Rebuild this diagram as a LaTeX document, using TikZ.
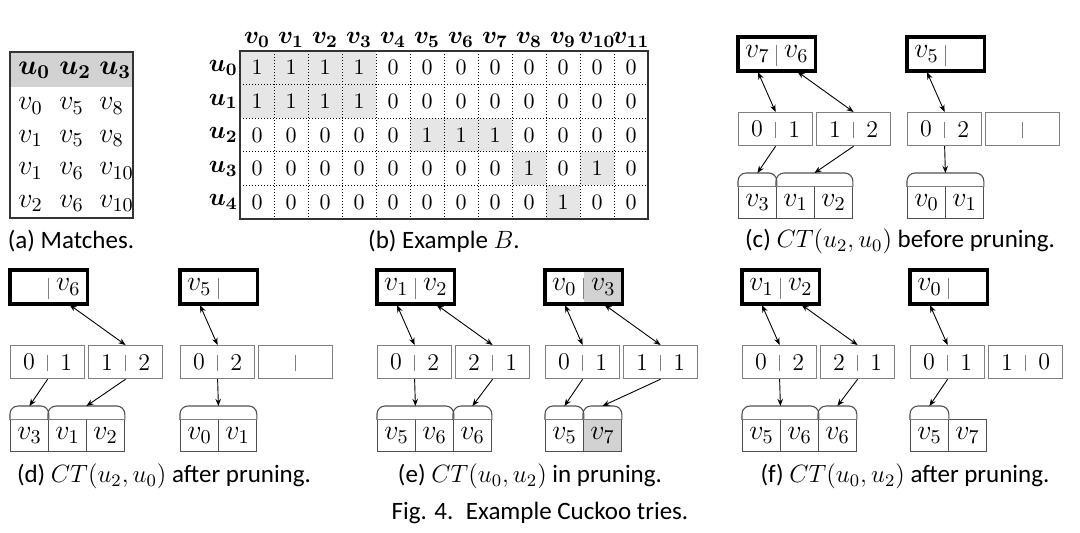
\RequirePackage{fix-cm}
\documentclass[tikz,border=0pt]{standalone}
\usepackage{amsmath}
\usepackage{fontspec}
\newfontfamily\capfont{Carlito}
\usetikzlibrary{calc,arrows.meta}
\definecolor{shadeA}{HTML}{E6E6E6}
\definecolor{shadeB}{HTML}{D2D2D2}
\definecolor{boxgray}{HTML}{808080}
\definecolor{celldark}{HTML}{505050}
\definecolor{framedark}{HTML}{333333}
\tikzset{
  >={Stealth[length=3.6pt,width=2.8pt]},
  captext/.style={font=\fontsize{12.5}{15}\capfont, inner sep=0},
  mtx/.style={font=\fontsize{11}{13}\selectfont, inner sep=0},
  hdr/.style={font=\fontsize{12.5}{14}\selectfont, inner sep=0},
  tentry/.style={font=\fontsize{14}{16}\selectfont, inner sep=0, anchor=west},
  half/.style={minimum width=19pt, minimum height=16.5pt, inner sep=0, font=\fontsize{14}{16}\selectfont},
  halfm/.style={minimum width=18.5pt, minimum height=16.5pt, inner sep=0, font=\fontsize{12}{14}\selectfont},
  topframe/.style={draw=black, line width=1.7pt},
  midbox/.style={draw=boxgray, line width=0.6pt, minimum width=37pt, minimum height=16.5pt, inner sep=0},
  divider/.style={draw=boxgray, line width=0.6pt},
  cellbox/.style={draw=celldark, line width=0.55pt, minimum width=19pt, minimum height=16pt, inner sep=0, font=\fontsize{14}{16}\selectfont},
  bumpline/.style={draw=celldark, line width=0.55pt, rounded corners=4pt},
  sepline/.style={draw=boxgray, line width=0.55pt},
  link/.style={<->, line width=0.45pt, shorten <=0.8pt},
  downlink/.style={->, line width=0.45pt},
  griddot/.style={densely dotted, line width=0.5pt, draw=black},
  gridframe/.style={draw=framedark, line width=0.6pt},
}
% name, x, y, left style, left text, right style, right text
\newcommand\TopBox[7]{%
  \node[half,#4,anchor=north west] (#1l) at (#2,#3) {#5};
  \node[half,#6,anchor=north west] (#1r) at (#1l.north east) {#7};
  \draw[topframe] (#1l.north west) rectangle (#1r.south east);
  \draw[divider] ($(#1l.north east)!0.23!(#1l.south east)$) -- ($(#1l.north east)!0.86!(#1l.south east)$);
}
% name, x, y, left, right
\newcommand\MidBox[5]{%
  \node[midbox,anchor=north west] (#1) at (#2,#3) {};
  \node[halfm,anchor=west] (#1l) at (#1.west) {#4};
  \node[halfm,anchor=east] (#1r) at (#1.east) {#5};
  \draw[divider] ($(#1.north)!0.3!(#1.south)$) -- ($(#1.north)!0.75!(#1.south)$);
}
% name, x, y, style, text
\newcommand\Cell[5]{\node[cellbox,#4,anchor=north west] (#1) at (#2,#3) {#5};}
% name, x, y, number of cells
\newcommand\Bump[4]{%
  \node[inner sep=0, minimum width=#4*19pt, minimum height=6.5pt, anchor=north west] (#1) at (#2,#3) {};
  \draw[bumpline] (#1.south west) -- (#1.north west) -- (#1.north east) -- (#1.south east);
  \draw[sepline] (#1.south west) -- (#1.south east);
}
\begin{document}
\begin{tikzpicture}[x=0.5pt,y=-0.5pt]
\useasboundingbox (0,0) rectangle (1080,532);
\fill[white] (0,0) rectangle (1080,532);

% ---------- (a) Matches ----------
\fill[shadeB] (10,52) rectangle (133,87);
\draw[gridframe] (10,52) rectangle (133,218);
\node[tentry] (ah0) at (18,70) {$\boldsymbol{u_0}$};
\node[tentry] (ah1) at (59,70) {$\boldsymbol{u_2}$};
\node[tentry] (ah2) at (99,70) {$\boldsymbol{u_3}$};
\foreach \a/\b/\c [count=\i from 0] in {0/5/8,1/5/8,1/6/10,2/6/10}{
  \node[tentry] (a-\i-0) at (18,106+32.5*\i) {$v_{\a}$};
  \node[tentry] (a-\i-1) at (59,106+32.5*\i) {$v_{\b}$};
  \node[tentry] (a-\i-2) at (99,106+32.5*\i) {$v_{\c}$};
}
\node[captext] (capa) at (71,241) {(a) Matches.};

% ---------- (b) Example B ----------
\foreach \r/\vals in {0/{1,1,1,1,0,0,0,0,0,0,0,0},1/{1,1,1,1,0,0,0,0,0,0,0,0},2/{0,0,0,0,0,1,1,1,0,0,0,0},3/{0,0,0,0,0,0,0,0,1,0,1,0},4/{0,0,0,0,0,0,0,0,0,1,0,0}}{
  \foreach \v [count=\c from 0] in \vals {
    \ifnum\v=1 \fill[shadeA] (240+34*\c,51+33.6*\r) rectangle ++(34,33.6); \fi
  }
}
\foreach \c in {1,...,11} \draw[griddot] (240+34*\c,51) -- (240+34*\c,219);
\foreach \r in {1,...,4} \draw[griddot] (240,51+33.6*\r) -- (648,51+33.6*\r);
\draw[gridframe] (240,51) rectangle (648,219);
\foreach \r/\vals in {0/{1,1,1,1,0,0,0,0,0,0,0,0},1/{1,1,1,1,0,0,0,0,0,0,0,0},2/{0,0,0,0,0,1,1,1,0,0,0,0},3/{0,0,0,0,0,0,0,0,1,0,1,0},4/{0,0,0,0,0,0,0,0,0,1,0,0}}{
  \foreach \v [count=\c from 0] in \vals {
    \node[mtx] (b-\r-\c) at (257+34*\c,67.8+33.6*\r) {$\v$};
  }
}
\foreach \c in {0,...,11} \node[hdr] (bh-\c) at (257+34*\c,40) {$\boldsymbol{v_{\c}}$};
\foreach \r in {0,...,4} \node[hdr,anchor=east] (br-\r) at (238,67.8+33.6*\r) {$\boldsymbol{u_{\r}}$};
\node[captext] (capb) at (444,241) {(b) Example $B$.};

% ---------- (c) ----------
\TopBox{cA}{738}{37}{}{$v_7$}{}{$v_6$}
\MidBox{cAm1}{738}{112}{0}{1}
\MidBox{cAm2}{816}{112}{1}{2}
\Cell{cAc0}{738}{186}{}{$v_3$}
\Cell{cAc1}{776}{186}{}{$v_1$}
\Cell{cAc2}{814}{186}{}{$v_2$}
\Bump{cAb1}{738}{173}{1}
\Bump{cAb2}{776}{173}{2}
\draw[link] (cAl.south) -- (cAm1.north);
\draw[link] (cAr.south) -- (cAm2.north);
\draw[downlink] (cAm1.south) -- (cAb1.north);
\draw[downlink] (cAm2.south) -- (cAb2.north);

\TopBox{cB}{907}{37}{}{$v_5$}{}{}
\MidBox{cBm1}{907}{112}{0}{2}
\MidBox{cBm2}{985}{112}{}{}
\Cell{cBc0}{907}{186}{}{$v_0$}
\Cell{cBc1}{945}{186}{}{$v_1$}
\Bump{cBb1}{907}{173}{2}
\draw[link] (cBl.south) -- (cBm1.north);
\draw[downlink] (cBm1.south) -- (cBb1.north);
\node[captext] (capc) at (900,241) {(c) $CT(u_2,u_0)$ before pruning.};

% ---------- (d) ----------
\TopBox{dA}{10}{270}{}{}{}{$v_6$}
\MidBox{dAm1}{10}{345}{0}{1}
\MidBox{dAm2}{88}{345}{1}{2}
\Cell{dAc0}{10}{419}{}{$v_3$}
\Cell{dAc1}{48}{419}{}{$v_1$}
\Cell{dAc2}{86}{419}{}{$v_2$}
\Bump{dAb1}{10}{406}{1}
\Bump{dAb2}{48}{406}{2}
\draw[link] (dAr.south) -- (dAm2.north);
\draw[downlink] (dAm1.south) -- (dAb1.north);
\draw[downlink] (dAm2.south) -- (dAb2.north);

\TopBox{dB}{180}{270}{}{$v_5$}{}{}
\MidBox{dBm1}{180}{345}{0}{2}
\MidBox{dBm2}{258}{345}{}{}
\Cell{dBc0}{180}{419}{}{$v_0$}
\Cell{dBc1}{218}{419}{}{$v_1$}
\Bump{dBb1}{180}{406}{2}
\draw[link] (dBl.south) -- (dBm1.north);
\draw[downlink] (dBm1.south) -- (dBb1.north);
\node[captext] (capd) at (164,476) {(d) $CT(u_2,u_0)$ after pruning.};

% ---------- (e) ----------
\TopBox{eA}{377}{270}{}{$v_1$}{}{$v_2$}
\MidBox{eAm1}{377}{345}{0}{2}
\MidBox{eAm2}{455}{345}{2}{1}
\Cell{eAc0}{377}{419}{}{$v_5$}
\Cell{eAc1}{415}{419}{}{$v_6$}
\Cell{eAc2}{453}{419}{}{$v_6$}
\Bump{eAb1}{377}{406}{2}
\Bump{eAb2}{453}{406}{1}
\draw[link] (eAl.south) -- (eAm1.north);
\draw[link] (eAr.south) -- (eAm2.north);
\draw[downlink] (eAm1.south) -- (eAb1.north);
\draw[downlink] (eAm2.south) -- (eAb2.north);

\TopBox{eB}{545}{270}{}{$v_0$}{fill=shadeB}{$v_3$}
\MidBox{eBm1}{545}{345}{0}{1}
\MidBox{eBm2}{623}{345}{1}{1}
\Cell{eBc0}{545}{419}{}{$v_5$}
\Cell{eBc1}{583}{419}{fill=shadeB}{$v_7$}
\Bump{eBb1}{545}{406}{1}
\Bump{eBb2}{583}{406}{1}
\draw[link] (eBl.south) -- (eBm1.north);
\draw[link] (eBr.south) -- (eBm2.north);
\draw[downlink] (eBm1.south) -- (eBb1.north);
\draw[downlink] (eBm2.south) -- (eBb2.north);
\node[captext] (cape) at (530,476) {(e) $CT(u_0,u_2)$ in pruning.};

% ---------- (f) ----------
\TopBox{fA}{742}{270}{}{$v_1$}{}{$v_2$}
\MidBox{fAm1}{742}{345}{0}{2}
\MidBox{fAm2}{820}{345}{2}{1}
\Cell{fAc0}{742}{419}{}{$v_5$}
\Cell{fAc1}{780}{419}{}{$v_6$}
\Cell{fAc2}{818}{419}{}{$v_6$}
\Bump{fAb1}{742}{406}{2}
\Bump{fAb2}{818}{406}{1}
\draw[link] (fAl.south) -- (fAm1.north);
\draw[link] (fAr.south) -- (fAm2.north);
\draw[downlink] (fAm1.south) -- (fAb1.north);
\draw[downlink] (fAm2.south) -- (fAb2.north);

\TopBox{fB}{910}{270}{}{$v_0$}{}{}
\MidBox{fBm1}{910}{345}{0}{1}
\MidBox{fBm2}{988}{345}{1}{0}
\Cell{fBc0}{910}{419}{}{$v_5$}
\Cell{fBc1}{948}{419}{}{$v_7$}
\Bump{fBb1}{910}{406}{1}
\draw[link] (fBl.south) -- (fBm1.north);
\draw[downlink] (fBm1.south) -- (fBb1.north);
\node[captext] (capf) at (905,476) {(f) $CT(u_0,u_2)$ after pruning.};

\node[captext] (capfig) at (540,513) {Fig. 4.\hspace{0.5em}Example Cuckoo tries.};
\end{tikzpicture}
\end{document}
